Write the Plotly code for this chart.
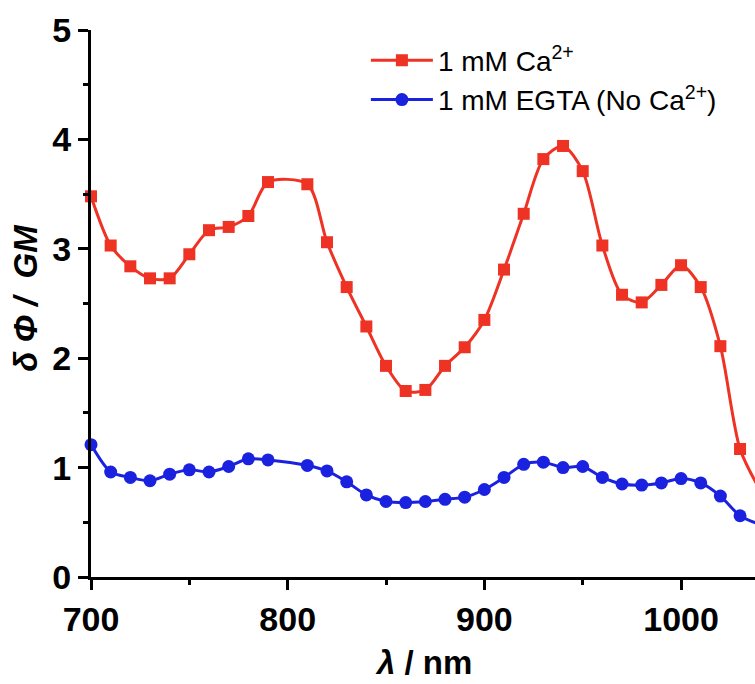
import plotly.graph_objects as go

wavelength_ca = [700, 710, 720, 730, 740, 750, 760, 770, 780, 790, 810, 820, 830, 840, 850,
                 860, 870, 880, 890, 900, 910, 920, 930, 940, 950, 960, 970, 980, 990, 1000,
                 1010, 1020, 1030, 1040]
sigma_ca = [3.48, 3.03, 2.84, 2.73, 2.73, 2.95, 3.17, 3.20, 3.30, 3.61, 3.59, 3.06, 2.65, 2.29, 1.93,
            1.70, 1.71, 1.93, 2.10, 2.35, 2.81, 3.32, 3.82, 3.94, 3.71, 3.03, 2.58, 2.51, 2.67, 2.85,
            2.65, 2.11, 1.17, 0.80]

wavelength_egta = [700, 710, 720, 730, 740, 750, 760, 770, 780, 790, 810, 820, 830, 840, 850,
                   860, 870, 880, 890, 900, 910, 920, 930, 940, 950, 960, 970, 980, 990, 1000,
                   1010, 1020, 1030, 1040]
sigma_egta = [1.21, 0.96, 0.91, 0.88, 0.94, 0.98, 0.96, 1.01, 1.08, 1.07, 1.02, 0.97, 0.87, 0.75, 0.69,
              0.68, 0.69, 0.71, 0.73, 0.80, 0.91, 1.03, 1.05, 1.00, 1.01, 0.91, 0.85, 0.84, 0.86, 0.90,
              0.86, 0.74, 0.56, 0.48]

x_ticks = [700, 800, 900, 1000]
y_ticks = [0, 1, 2, 3, 4, 5]

RED = "#EE3224"
BLUE = "#1A22E0"
FONT = "Arial, Liberation Sans"

fig = go.Figure()
fig.add_trace(go.Scatter(
    x=wavelength_ca, y=sigma_ca, mode="lines+markers", name="1 mM Ca<sup>2+</sup>",
    line=dict(color=RED, width=3, shape="spline", smoothing=0.8),
    marker=dict(symbol="square", size=12, color=RED),
    legendgroup="a", cliponaxis=False,
))
fig.add_trace(go.Scatter(
    x=wavelength_egta, y=sigma_egta, mode="lines+markers", name="1 mM EGTA (No Ca<sup>2+</sup>)",
    line=dict(color=BLUE, width=3, shape="spline", smoothing=0.8),
    marker=dict(symbol="circle", size=13, color=BLUE),
    legendgroup="b", cliponaxis=False,
))

axis_common = dict(
    showline=True, linecolor="black", linewidth=3, mirror=False,
    ticks="outside", ticklen=10, tickwidth=3, tickcolor="black",
    showgrid=False, zeroline=False,
    tickfont=dict(family=FONT, size=34, color="black", weight="bold"),
)

fig.update_layout(
    width=755, height=684,
    margin=dict(l=91, r=0, t=30, b=107),
    paper_bgcolor="white", plot_bgcolor="white",
    xaxis=dict(range=[700, 1037.6], tickvals=x_ticks,
               minor=dict(ticks="outside", ticklen=5, tickwidth=3, tickcolor="black", dtick=50, tick0=700),
               **axis_common),
    yaxis=dict(range=[0, 5], tickvals=y_ticks,
               minor=dict(ticks="outside", ticklen=5, tickwidth=3, tickcolor="black", dtick=0.5, tick0=0),
               **axis_common),
    legend=dict(x=0.414, y=0.99, xanchor="left", yanchor="top", itemwidth=62,
                font=dict(family=FONT, size=28, color="black"),
                bgcolor="rgba(0,0,0,0)", tracegroupgap=0, traceorder="grouped"),
    annotations=[
        dict(text="<b><i>δ Φ /  GM</i></b>", xref="paper", yref="paper",
             x=-0.1, y=0.51, xanchor="center", yanchor="middle", textangle=-90,
             showarrow=False, font=dict(family=FONT, size=33, color="black")),
        dict(text="<b><i>λ</i> / nm</b>", xref="paper", yref="paper",
             x=0.5, y=-0.157, xanchor="center", yanchor="middle",
             showarrow=False, font=dict(family=FONT, size=33, color="black")),
    ],
)

fig.write_html("out.html")
